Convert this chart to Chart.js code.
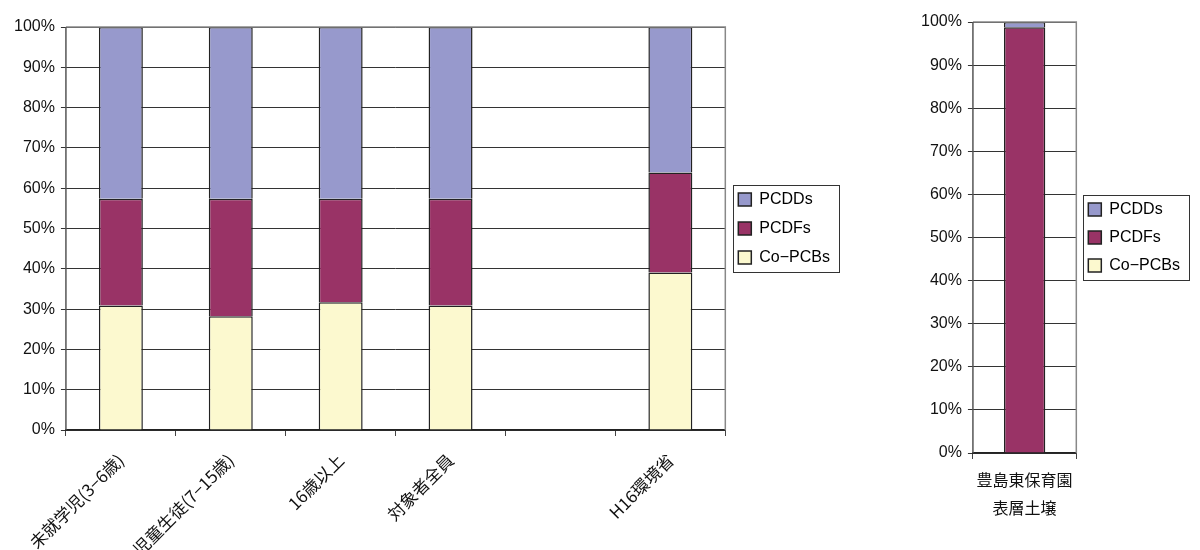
<!DOCTYPE html>
<html>
<head>
<meta charset="utf-8">
<script src="https://cdn.jsdelivr.net/npm/chart.js@4"></script>
<style>
  html, body { margin: 0; padding: 0; background: #fff; }
  #wrapA { position: absolute; left: 0; top: 0; width: 880px; height: 550px; }
  #wrapB { position: absolute; left: 915px; top: 0; width: 285px; height: 550px; }
</style>
</head>
<body>
<div id="wrapA"><canvas id="chartA"></canvas></div>
<div id="wrapB"><canvas id="chartB"></canvas></div>
<script>
// left chart
const groupLabels = ['未就学児(3−6歳)', '児童生徒(7−15歳)', '16歳以上', '対象者全員', '', 'H16環境省'];
const coPcbs = [30.9, 28.2, 31.7, 30.9, null, 39.1];
const pcdfs = [26.5, 29.2, 25.7, 26.5, null, 24.8];
const pcdds = [42.6, 42.6, 42.6, 42.6, null, 36.1];

// right chart
const soilLabels = [['豊島東保育園', '表層土壌']];
const soilCoPcbs = [0.1];
const soilPcdfs = [98.7];
const soilPcdds = [1.2];

const seriesNames = ['Co−PCBs', 'PCDFs', 'PCDDs'];
const seriesColors = ['#fcf9cf', '#993366', '#9799cc'];

const tickFont = { family: "'Liberation Sans', sans-serif", size: 16 };

const frame = {
    id: 'frame',
    afterDraw: function (chart) {
        const ctx = chart.ctx;
        const a = chart.chartArea;
        ctx.save();
        ctx.strokeStyle = '#888';
        ctx.lineWidth = 1.5;
        ctx.beginPath();
        ctx.moveTo(a.left, a.top);
        ctx.lineTo(a.right, a.top);
        ctx.lineTo(a.right, a.bottom);
        ctx.stroke();
        ctx.strokeStyle = '#555';
        ctx.beginPath();
        ctx.moveTo(a.left, a.top);
        ctx.lineTo(a.left, a.bottom);
        ctx.stroke();
        // box round the legend items only
        const boxes = chart.legend.legendHitBoxes;
        let x1 = Infinity, y1 = Infinity, x2 = -Infinity, y2 = -Infinity;
        boxes.forEach(function (b) {
            x1 = Math.min(x1, b.left);
            y1 = Math.min(y1, b.top);
            x2 = Math.max(x2, b.left + b.width);
            y2 = Math.max(y2, b.top + b.height);
        });
        ctx.strokeStyle = '#333';
        ctx.lineWidth = 1;
        ctx.strokeRect(Math.round(x1 - 5) + 0.5, Math.round(y1 - 7) + 0.5,
            Math.round(x2 - x1 + 14), Math.round(y2 - y1 + 13));
        ctx.restore();
    }
};

function makeDatasets(values) {
    return values.map(function (v, i) {
        return {
            label: seriesNames[i],
            data: v,
            backgroundColor: seriesColors[i],
            borderColor: '#222',
            borderWidth: 1.5,
            barPercentage: 0.4,
            categoryPercentage: 1
        };
    });
}

function makeOptions(rotate) {
    return {
        responsive: true,
        maintainAspectRatio: false,
        animation: false,
        layout: { padding: 0 },
        plugins: {
            legend: {
                position: 'right',
                fullSize: false,
                maxWidth: 200,
                reverse: true,
                labels: {
                    boxWidth: 13,
                    boxHeight: 13,
                    padding: 13,
                    color: '#111',
                    font: { family: "'Liberation Sans', sans-serif", size: 16 },
                    generateLabels: function (chart) {
                        return chart.data.datasets.map(function (ds, i) {
                            return {
                                text: ds.label,
                                fillStyle: ds.backgroundColor,
                                strokeStyle: '#222',
                                lineWidth: 1.5,
                                datasetIndex: i
                            };
                        });
                    }
                }
            },
            tooltip: { enabled: false }
        },
        scales: {
            x: {
                stacked: true,
                grid: { display: true, drawOnChartArea: false, offset: true, tickLength: 6, color: '#444' },
                border: { color: '#222', width: 1.5 },
                ticks: {
                    color: '#111',
                    font: { family: "'Noto Sans CJK JP', sans-serif", size: 17 },
                    maxRotation: rotate,
                    minRotation: rotate,
                    autoSkip: false,
                    padding: 14
                }
            },
            y: {
                stacked: true,
                min: 0,
                max: 100,
                grid: { color: '#333', lineWidth: 1, tickLength: 5 },
                border: { display: false },
                ticks: {
                    stepSize: 10,
                    color: '#111',
                    font: tickFont,
                    padding: 6,
                    callback: function (v) { return v + '%'; }
                }
            }
        }
    };
}

const optsA = makeOptions(45);
optsA.layout.padding = { top: 27, right: 40, bottom: 0, left: 8 };
optsA.scales.x.afterFit = function (scale) { scale.height = 120; };
new Chart(document.getElementById('chartA'), {
    type: 'bar',
    data: { labels: groupLabels, datasets: makeDatasets([coPcbs, pcdfs, pcdds]) },
    options: optsA,
    plugins: [frame]
});

const optsB = makeOptions(0);
optsB.layout.padding = { top: 22, right: 10, bottom: 21, left: 0 };
optsB.plugins.legend.labels.padding = 12;
optsB.scales.x.ticks.padding = 7;
optsB.scales.x.ticks.font = { family: "'Noto Sans CJK JP', sans-serif", size: 16, lineHeight: 1.75 };
new Chart(document.getElementById('chartB'), {
    type: 'bar',
    data: { labels: soilLabels, datasets: makeDatasets([soilCoPcbs, soilPcdfs, soilPcdds]) },
    options: optsB,
    plugins: [frame]
});
</script>
</body>
</html>
